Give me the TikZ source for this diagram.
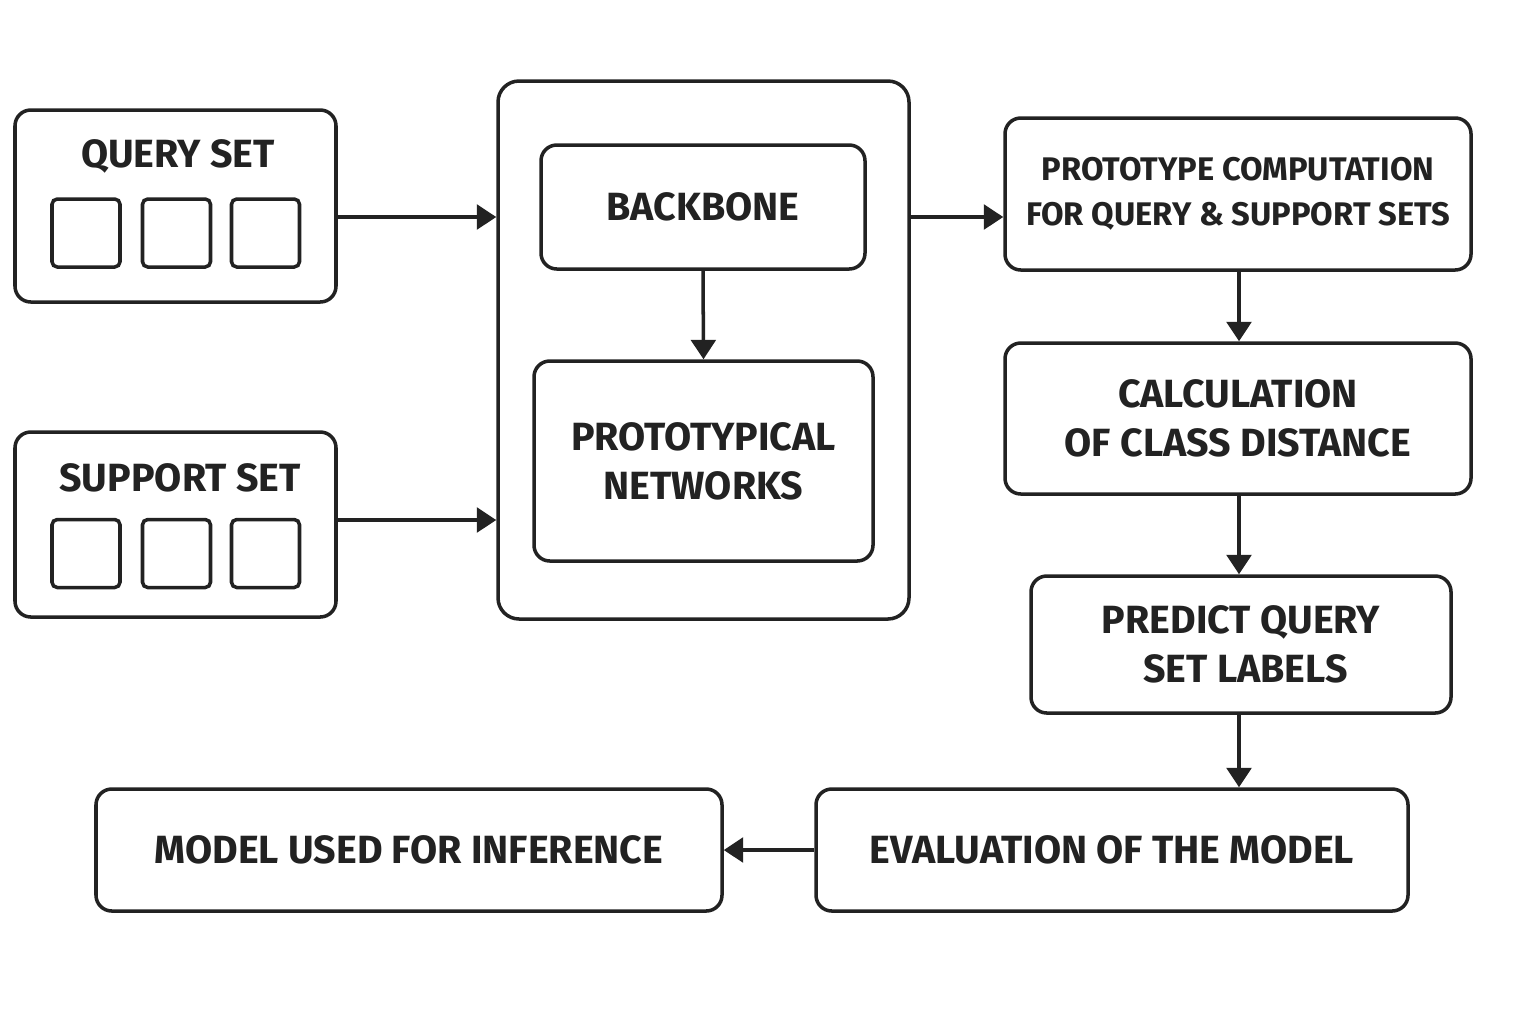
\documentclass[tikz,border=0pt]{standalone}
\usepackage{fontspec}
\setmainfont{Fira Sans}
\usetikzlibrary{arrows.meta}

\definecolor{ink}{HTML}{222222}

\tikzset{
    blk/.style={draw=ink, line width=1pt, rounded corners=4.5pt, align=center,
        inner sep=0pt, text=ink, font=\bfseries\fontsize{11.2}{14}\selectfont},
    cell/.style={draw=ink, line width=1pt, rounded corners=1.5pt, minimum width=0.68cm,
        minimum height=0.68cm, inner sep=0pt},
    lbl/.style={text=ink, font=\bfseries\fontsize{11.2}{14}\selectfont},
    arr/.style={draw=ink, line width=1pt, -{Triangle[length=5.5pt, width=7pt]}}
}

\begin{document}
\begin{tikzpicture}
    \useasboundingbox (0, 0) rectangle (15.36, -10.24);

    % inputs
    \node[blk, minimum width=3.21cm, minimum height=1.92cm] (query) at (1.755, -2.06) {};
    \node[lbl] (querylbl) at (1.78, -1.56) {QUERY SET};
    \node[cell] (q1) at (0.86, -2.33) {};
    \node[cell] (q2) at (1.765, -2.33) {};
    \node[cell] (q3) at (2.655, -2.33) {};

    \node[blk, minimum width=3.21cm, minimum height=1.85cm] (support) at (1.755, -5.245) {};
    \node[lbl] (supportlbl) at (1.80, -4.78) {SUPPORT SET};
    \node[cell] (s1) at (0.86, -5.535) {};
    \node[cell] (s2) at (1.765, -5.535) {};
    \node[cell] (s3) at (2.655, -5.535) {};

    % model block
    \node[blk, rounded corners=6pt, minimum width=4.11cm, minimum height=5.38cm] (model) at (7.035, -3.50) {};
    \node[blk, minimum width=3.24cm, minimum height=1.24cm] (backbone) at (7.03, -2.07) {BACKBONE};
    \node[blk, minimum width=3.39cm, minimum height=2.00cm] (protonet) at (7.035, -4.61) {PROTOTYPICAL\\NETWORKS};

    % right column
    \node[blk, minimum width=4.66cm, minimum height=1.52cm,
        font=\bfseries\fontsize{9.3}{12.8}\selectfont] (protocomp) at (12.38, -1.94)
        {PROTOTYPE COMPUTATION\\FOR QUERY \& SUPPORT SETS};
    \node[blk, minimum width=4.66cm, minimum height=1.51cm] (distance) at (12.38, -4.185)
        {CALCULATION\\OF CLASS DISTANCE};
    \node[blk, minimum width=4.20cm, minimum height=1.37cm] (predict) at (12.41, -6.445)
        {PREDICT QUERY\\\ SET LABELS};
    \node[blk, minimum width=5.92cm, minimum height=1.22cm] (evaluation) at (11.12, -8.50)
        {EVALUATION OF THE MODEL};
    \node[blk, minimum width=6.26cm, minimum height=1.22cm] (inference) at (4.09, -8.50)
        {MODEL USED FOR INFERENCE};

    % connectors
    \draw[arr] ([yshift=-1.1mm]query.east) -- ([yshift=-1.1mm]query.east -| model.west);
    \draw[arr] ([yshift=0.45mm]support.east) -- ([yshift=0.45mm]support.east -| model.west);
    \draw[arr] (backbone.south) -- (protonet.north);
    \draw[arr] ([yshift=-2.3mm]protocomp.west -| model.east) -- ([yshift=-2.3mm]protocomp.west);
    \draw[arr] ([xshift=0.1mm]protocomp.south) -- ([xshift=0.1mm]distance.north);
    \draw[arr] ([xshift=0.1mm]distance.south) -- ([xshift=0.1mm]distance.south |- predict.north);
    \draw[arr] ([xshift=0.1mm]distance.south |- predict.south) -- ([xshift=0.1mm]distance.south |- evaluation.north);
    \draw[arr] (evaluation.west) -- (inference.east);
\end{tikzpicture}
\end{document}
